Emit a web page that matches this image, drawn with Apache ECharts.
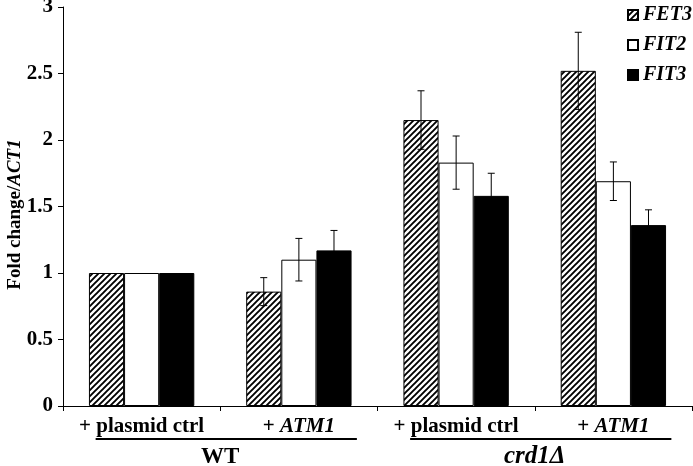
<!DOCTYPE html>
<html>
<head>
<meta charset="utf-8">
<script src="https://cdn.jsdelivr.net/npm/echarts@6/dist/echarts.min.js"></script>
<style>html,body{margin:0;padding:0;background:#fff}#c{width:693px;height:466px}</style>
</head>
<body>
<div id="c"></div>
<script>
var categories = ['+ plasmid ctrl', '+ ATM1', '+ plasmid ctrl', '+ ATM1'];
var seriesNames = ['FET3', 'FIT2', 'FIT3'];
var fet3 = [1, 0.86, 2.15, 2.52];
var fit2 = [1, 1.10, 1.83, 1.69];
var fit3 = [1, 1.17, 1.58, 1.36];
var fet3Err = [0, 0.105, 0.22, 0.29];
var fit2Err = [0, 0.16, 0.20, 0.145];
var fit3Err = [0, 0.15, 0.17, 0.115];
var yTicks = [0, 0.5, 1, 1.5, 2, 2.5, 3];
var groups = ['WT', 'crd1Δ'];
var groupSpans = [[0, 1], [2, 3]];

var FONT = '"Liberation Serif", "DejaVu Serif", serif';
var chart = echarts.init(document.getElementById('c'));

function hatch() {
  var c = document.createElement('canvas');
  c.width = 6; c.height = 6;
  var g = c.getContext('2d');
  g.fillStyle = '#fff'; g.fillRect(0, 0, 6, 6);
  g.strokeStyle = '#000'; g.lineWidth = 1.9;
  g.beginPath();
  g.moveTo(-1, 7); g.lineTo(7, -1);
  g.moveTo(-1, 1); g.lineTo(1, -1);
  g.moveTo(5, 7); g.lineTo(7, 5);
  g.stroke();
  return c;
}
var pattern = { image: hatch(), repeat: 'repeat' };
var colors = [pattern, '#ffffff', '#000000'];
var values = [fet3, fit2, fit3];
var errs = [fet3Err, fit2Err, fit3Err];
var GAP = 0.33;

var series = [];
seriesNames.forEach(function (n, s) {
  series.push({
    name: n, type: 'bar', data: values[s], barGap: 0, barCategoryGap: (GAP * 100) + '%',
    itemStyle: { color: colors[s], borderColor: '#000', borderWidth: 1 },
    z: 2
  });
});
seriesNames.forEach(function (n, s) {
  var d = [];
  values[s].forEach(function (v, i) { if (errs[s][i] > 0) d.push([i, v - errs[s][i], v + errs[s][i]]); });
  series.push({
    type: 'custom', z: 5, silent: true, data: d,
    encode: { x: 0, y: [1, 2] },
    renderItem: function (params, api) {
      var i = api.value(0);
      var lo = api.coord([i, api.value(1)]);
      var hi = api.coord([i, api.value(2)]);
      var cw = api.size([1, 0])[0];
      var bw = cw * (1 - GAP) / 3;
      var x = lo[0] + (s - 1) * bw;
      var cap = 3.5;
      var st = { stroke: '#000', lineWidth: 1 };
      return { type: 'group', children: [
        { type: 'line', shape: { x1: x, y1: lo[1], x2: x, y2: hi[1] }, style: st },
        { type: 'line', shape: { x1: x - cap, y1: hi[1], x2: x + cap, y2: hi[1] }, style: st },
        { type: 'line', shape: { x1: x - cap, y1: lo[1], x2: x + cap, y2: lo[1] }, style: st }
      ]};
    }
  });
});

var option = {
  animation: false,
  backgroundColor: '#fff',
  grid: { left: 63, right: 1, top: 7, bottom: 60, containLabel: false, outerBoundsMode: 'none' },
  legend: {
    data: seriesNames, orient: 'vertical', left: 622, top: 0, icon: 'rect',
    itemWidth: 10, itemHeight: 10, itemGap: 10,
    textStyle: { fontFamily: FONT, fontSize: 20, fontWeight: 'bold', fontStyle: 'italic', color: '#000' }
  },
  xAxis: {
    type: 'category', data: categories,
    axisLine: { lineStyle: { color: '#000', width: 1 } },
    axisTick: { show: true, length: 5, lineStyle: { color: '#000' } },
    axisLabel: {
      margin: 10, interval: 0,
      formatter: function (v) {
        return v.replace(/^(.*?)(ATM1)?$/, function (m, a, b) { return '{b|' + a + '}' + (b ? '{i|' + b + '}' : ''); });
      },
      rich: {
        b: { fontFamily: FONT, fontSize: 21, fontWeight: 'bold', color: '#000' },
        i: { fontFamily: FONT, fontSize: 21, fontWeight: 'bold', fontStyle: 'italic', color: '#000' }
      }
    }
  },
  yAxis: {
    type: 'value', min: 0, max: 3, interval: 0.5,
    name: '{b|Fold change/}{i|ACT1}', nameLocation: 'middle', nameRotate: 90, nameGap: 38,
    nameMoveOverlap: false,
    nameTextStyle: {
      padding: [0, 16, 0, 0],
      rich: {
        b: { fontFamily: FONT, fontSize: 19, fontWeight: 'bold', color: '#000' },
        i: { fontFamily: FONT, fontSize: 19, fontWeight: 'bold', fontStyle: 'italic', color: '#000' }
      }
    },
    splitLine: { show: false },
    axisLine: { show: true, lineStyle: { color: '#000', width: 1 } },
    axisTick: { show: true, length: 5, lineStyle: { color: '#000' } },
    axisLabel: {
      margin: 10, color: '#000', fontFamily: FONT, fontSize: 21, fontWeight: 'bold',
      formatter: function (v) { return yTicks.indexOf(v) >= 0 ? String(v) : ''; }
    }
  },
  series: series
};
chart.setOption(option);

var gfx = [];
groups.forEach(function (g, k) {
  var a = chart.convertToPixel({ xAxisIndex: 0 }, groupSpans[k][0]);
  var b = chart.convertToPixel({ xAxisIndex: 0 }, groupSpans[k][1]);
  gfx.push({ type: 'line', shape: { x1: a - 46, y1: 439, x2: b + 58, y2: 439 }, style: { stroke: '#000', lineWidth: 2 } });
  gfx.push({ type: 'text', x: (a + b) / 2, y: 457, style: {
    text: g, fontFamily: FONT, fontSize: k === 1 ? 25 : 23, fontWeight: 'bold', fontStyle: k === 1 ? 'italic' : 'normal',
    fill: '#000', align: 'center', verticalAlign: 'middle' } });
});
chart.setOption({ graphic: gfx });
</script>
</body>
</html>
